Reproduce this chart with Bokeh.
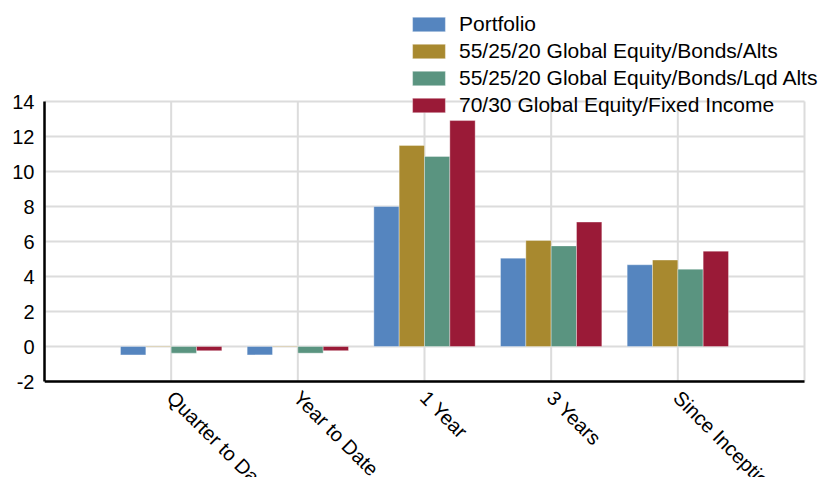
import math
from bokeh.plotting import figure
from bokeh.models import (ColumnDataSource, FixedTicker, Legend, LegendItem,
                          LabelSet, Range1d)
from bokeh.core.properties import value
from bokeh.embed import file_html
from bokeh.resources import INLINE

categories = ["Quarter to Date", "Year to Date", "1 Year", "3 Years", "Since Inception"]
series_names = ["Portfolio",
                "55/25/20 Global Equity/Bonds/Alts",
                "55/25/20 Global Equity/Bonds/Lqd Alts",
                "70/30 Global Equity/Fixed Income"]
portfolio = [-0.48, -0.48, 8.0, 5.05, 4.67]
alts = [0.03, 0.03, 11.49, 6.06, 4.94]
lqd_alts = [-0.38, -0.38, 10.86, 5.75, 4.42]
fixed_income = [-0.24, -0.24, 12.91, 7.11, 5.45]
colors = ["#5585BF", "#A8892F", "#5A9480", "#9A1A37"]
y_ticks = [-2, 0, 2, 4, 6, 8, 10, 12, 14]
y_tick_labels = ["-2", "0", "2", "4", "6", "8", "10", "12", "14"]
y_min, y_max = -2, 14

FONT = "Liberation Sans"

# The frame covers the whole canvas so the legend and rotated labels are not
# clipped; the scales keep -2..14 and -1..5 at the reference's pixel positions.
PX_PER_UNIT_Y = 17.5
PX_PER_UNIT_X = 760 / 6
x_lo, x_hi = -1, len(categories)
p = figure(width=820, height=477, output_backend="svg", toolbar_location=None,
           x_range=Range1d(x_lo, x_hi + 16 / PX_PER_UNIT_X),
           y_range=Range1d(y_min - 96 / PX_PER_UNIT_Y, y_max + 101 / PX_PER_UNIT_Y))
p.min_border_left = 44
p.min_border_right = 0
p.min_border_top = 0
p.min_border_bottom = 0
p.outline_line_color = None

xs = list(range(len(categories)))

# grid lines limited to the plotted value area
grid_x = list(range(x_lo, x_hi + 1))
p.segment(x0=grid_x, x1=grid_x, y0=[y_min] * len(grid_x), y1=[y_max] * len(grid_x),
          line_color="#dcdcdc", line_width=2)
p.segment(x0=[x_lo] * len(y_ticks), x1=[x_hi] * len(y_ticks), y0=y_ticks, y1=y_ticks,
          line_color="#dcdcdc", line_width=2)

offsets = [-0.3, -0.1, 0.1, 0.3]
all_series = [portfolio, alts, lqd_alts, fixed_income]
items = []
for vals, off, col, name in zip(all_series, offsets, colors, series_names):
    src = ColumnDataSource(dict(x=[x + off for x in xs], top=vals))
    r = p.vbar(x="x", top="top", bottom=0, width=0.2, source=src,
               fill_color=col, line_color="white", line_alpha=0.35, line_width=1)
    items.append(LegendItem(label=name, renderers=[r]))

# x axis line along the bottom of the value range
p.segment(x0=[x_lo], x1=[x_hi], y0=[y_min], y1=[y_min], line_color="black", line_width=2.5)

legend = Legend(items=items, location=(364, 360), padding=0, spacing=3,
                glyph_width=41, glyph_height=18, label_standoff=10, label_height=20,
                label_text_font=FONT, label_text_font_size="21px",
                label_text_color="#000000",
                border_line_color=None, background_fill_alpha=0)
p.add_layout(legend, "center")

p.xgrid.visible = False
p.ygrid.visible = False

p.yaxis.ticker = FixedTicker(ticks=y_ticks)
p.yaxis.major_label_overrides = dict(zip(y_ticks, y_tick_labels))
p.yaxis.bounds = (y_min, y_max)
p.yaxis.axis_line_color = "black"
p.yaxis.axis_line_width = 2.5
p.yaxis.major_tick_line_color = None
p.yaxis.minor_tick_line_color = None
p.yaxis.major_label_text_font = FONT
p.yaxis.major_label_text_font_size = "20px"
p.yaxis.major_label_text_color = "#000000"
p.yaxis.major_label_standoff = 4

p.xaxis.visible = False

lab_src = ColumnDataSource(dict(x=xs, y=[y_min] * len(xs), t=categories))
labels = LabelSet(x="x", y="y", text="t", source=lab_src,
                  angle=-math.pi / 4, text_align="left", text_baseline="top",
                  x_offset=7, y_offset=-5,
                  text_font=value(FONT), text_font_size=value("20px"),
                  text_color="#000000")
p.add_layout(labels)

open("out.html", "w").write(file_html(p, INLINE))
